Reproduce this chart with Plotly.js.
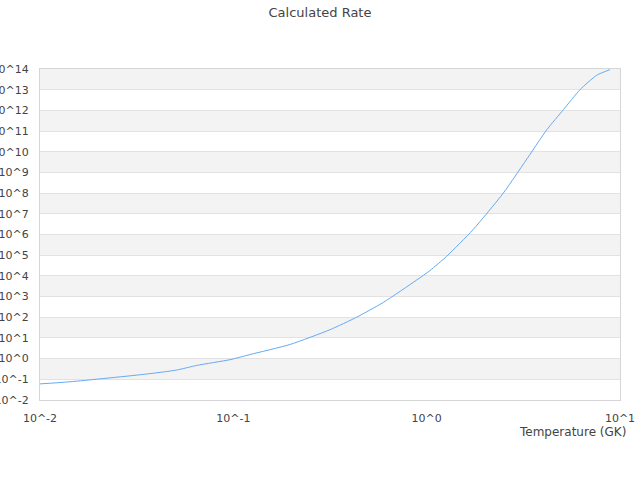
<!DOCTYPE html>
<html>
<head>
<meta charset="utf-8">
<script src="https://cdn.plot.ly/plotly-3.0.1.min.js"></script>
<style>html,body{margin:0;padding:0;background:#fff;}#chart{width:640px;height:480px;}</style>
</head>
<body>
<div id="chart"></div>
<script>
// Temperature (GK)
var temperature = [0.01, 0.0143, 0.0356, 0.0509, 0.0647, 0.0962, 0.122, 0.196, 0.316, 0.434, 0.597, 0.888, 1.04, 1.27, 1.74, 2.49, 3.42, 4.18, 5.09, 6.21, 7.58, 8.87];
// Calculated rate
var rate = [0.060, 0.076, 0.18, 0.28, 0.47, 0.89, 1.58, 4.8, 25, 100, 525, 6300, 1.8e4, 8.9e4, 1.74e6, 1.0e8, 7.4e9, 1.15e11, 1.07e12, 1.0e13, 5.0e13, 9.3e13];

var yTickExp = [-2,-1,0,1,2,3,4,5,6,7,8,9,10,11,12,13,14];
var xTickExp = [-2,-1,0,1];
var yTickVals = yTickExp.map(function(e){return Math.pow(10,e);});
var yTickText = yTickExp.map(function(e){return '10^' + e;});
var xTickVals = xTickExp.map(function(e){return Math.pow(10,e);});
var xTickText = xTickExp.map(function(e){return '10^' + e;});

var bands = [];
for (var i = 0; i < yTickExp.length - 1; i++) {
  if (Math.abs(yTickExp[i]) % 2 === 1) {
    bands.push({type:'rect', xref:'paper', yref:'y', x0:0, x1:1,
      y0:yTickVals[i], y1:yTickVals[i+1], fillcolor:'#f3f3f3', line:{width:0}, layer:'below'});
  }
}

var font = {family:'DejaVu Sans, sans-serif', size:11, color:'#444'};

Plotly.newPlot('chart', [{
  x: temperature, y: rate, type:'scatter', mode:'lines',
  line:{color:'#66aaf2', width:1, shape:'spline', smoothing:0.6}, hoverinfo:'x+y'
}], {
  width:640, height:480,
  margin:{l:40, r:20, t:69, b:80},
  paper_bgcolor:'#fff', plot_bgcolor:'#fff',
  font: font,
  showlegend:false,
  title:{text:'Calculated Rate', x:0.5, xanchor:'center', y:0.975, yanchor:'middle', font:{family:'DejaVu Sans, sans-serif', size:13, color:'#444'}},
  xaxis:{type:'log', range:[-2,1], tickvals:xTickVals, ticktext:xTickText, showgrid:false, zeroline:false,
    showline:true, linecolor:'#d6d6d6', linewidth:1, mirror:true, ticks:'', ticklabelstandoff:8, tickfont:font},
  yaxis:{type:'log', range:[-2,14], tickvals:yTickVals, ticktext:yTickText, showgrid:true, gridcolor:'#e2e2e2', gridwidth:1, zeroline:false,
    showline:true, linecolor:'#d6d6d6', linewidth:1, mirror:true, ticks:'', ticklabelstandoff:8, tickfont:font},
  shapes: bands,
  annotations:[{text:'Temperature (GK)', xref:'paper', yref:'paper', x:1.014, y:-0.07, xanchor:'right', yanchor:'top', showarrow:false,
    font:{family:'DejaVu Sans, sans-serif', size:12, color:'#444'}}]
}, {displayModeBar:false, staticPlot:true});
</script>
</body>
</html>
